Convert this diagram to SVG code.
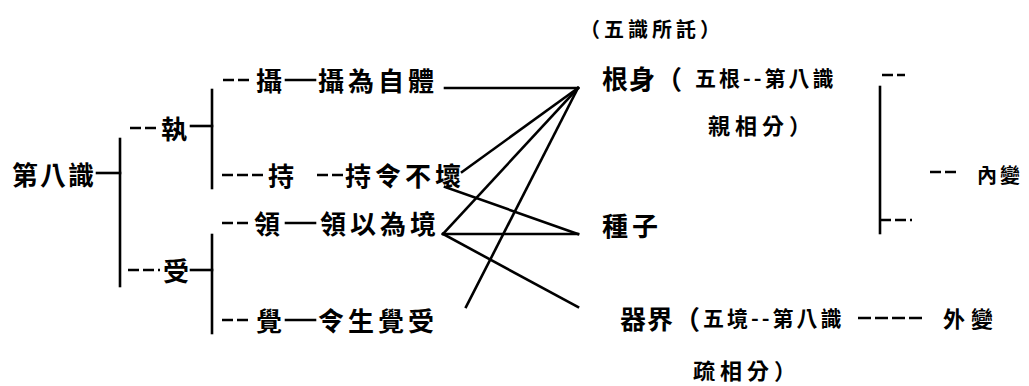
<svg xmlns="http://www.w3.org/2000/svg" width="1029" height="386" viewBox="0 0 1029 386">
<style>
text{font-family:"Noto Sans CJK TC","Noto Sans CJK SC",sans-serif;font-weight:700;fill:#000;dominant-baseline:central}
.m{font-size:26px;letter-spacing:4px}
.s{font-size:20px;letter-spacing:4px}
.n{font-size:22px;letter-spacing:5px}
line{stroke:#000;stroke-width:2.6;stroke-linecap:square}
.d{stroke-dasharray:11 4;stroke-linecap:butt}
</style>
<rect width="1029" height="386" fill="#fff"/>
<g id="connectors">
<line x1="120" y1="139" x2="120" y2="286"/>
<line x1="97" y1="173" x2="120" y2="173"/>
<line x1="212" y1="90" x2="212" y2="188"/>
<line x1="212" y1="235" x2="212" y2="333"/>
<line class="d" x1="130" y1="128" x2="160" y2="128"/>
<line x1="191" y1="126" x2="212" y2="126"/>
<line class="d" x1="128" y1="270" x2="160" y2="270"/>
<line x1="191" y1="270" x2="212" y2="270"/>
<line class="d" x1="223" y1="80" x2="252" y2="80"/>
<line x1="286" y1="80" x2="315" y2="80"/>
<line class="d" x1="222" y1="175" x2="265" y2="175"/>
<line class="d" x1="317" y1="175" x2="345" y2="175"/>
<line class="d" x1="222" y1="223" x2="250" y2="223"/>
<line x1="286" y1="223" x2="315" y2="223"/>
<line class="d" x1="222" y1="320" x2="252" y2="320"/>
<line x1="286" y1="320" x2="315" y2="320"/>
<line x1="445" y1="88" x2="578" y2="88"/>
<line x1="578" y1="88" x2="462" y2="172"/>
<line x1="578" y1="88" x2="443" y2="234"/>
<line x1="578" y1="88" x2="466" y2="307"/>
<line x1="445" y1="187" x2="578" y2="234"/>
<line x1="443" y1="234" x2="578" y2="234"/>
<line x1="443" y1="234" x2="578" y2="307"/>
<line x1="880" y1="87" x2="880" y2="233"/>
<line class="d" x1="880" y1="220" x2="912" y2="220"/>
<line class="d" x1="882" y1="75" x2="905" y2="75"/>
<line class="d" x1="930" y1="172" x2="958" y2="172"/>
<line class="d" x1="858" y1="318" x2="923" y2="318" style="stroke-dasharray:13 4"/>
</g>
<g id="n-root"><text class="m" x="12" y="173" style="letter-spacing:2px">第八識</text></g>
<g id="n-zhi"><text class="m" x="161" y="127">執</text></g>
<g id="n-shou"><text class="m" x="163" y="269">受</text></g>
<g id="n-she"><text class="m" x="256" y="79">攝</text><text class="m" x="318" y="79">攝為自體</text></g>
<g id="n-chi"><text class="m" x="268" y="174">持</text><text class="m" x="345" y="174">持令不壞</text></g>
<g id="n-ling"><text class="m" x="254" y="222">領</text><text class="m" x="320" y="222">領以為境</text></g>
<g id="n-jue"><text class="m" x="256" y="319">覺</text><text class="m" x="318" y="319">令生覺受</text></g>
<g id="n-note"><text class="s" x="580" y="28">（五識所託）</text></g>
<g id="n-genshen"><text class="m" x="602" y="77" style="letter-spacing:1px">根身<tspan>（</tspan><tspan style="font-size:21px;letter-spacing:3px" x="695">五根--第八識</tspan></text>
<text class="n" x="708" y="124">親相分）</text></g>
<g id="n-zhongzi"><text class="m" x="602" y="224">種子</text></g>
<g id="n-qijie"><text class="m" x="620" y="317" style="letter-spacing:1px">器界（<tspan style="font-size:21px;letter-spacing:3px" x="703">五境--第八識</tspan></text>
<text class="n" x="693" y="369">疏相分）</text></g>
<g id="n-neibian"><text class="s" x="977" y="174" style="letter-spacing:3px">內變</text></g>
<g id="n-waibian"><text class="n" x="943" y="317" style="letter-spacing:6px">外變</text></g>
</svg>
